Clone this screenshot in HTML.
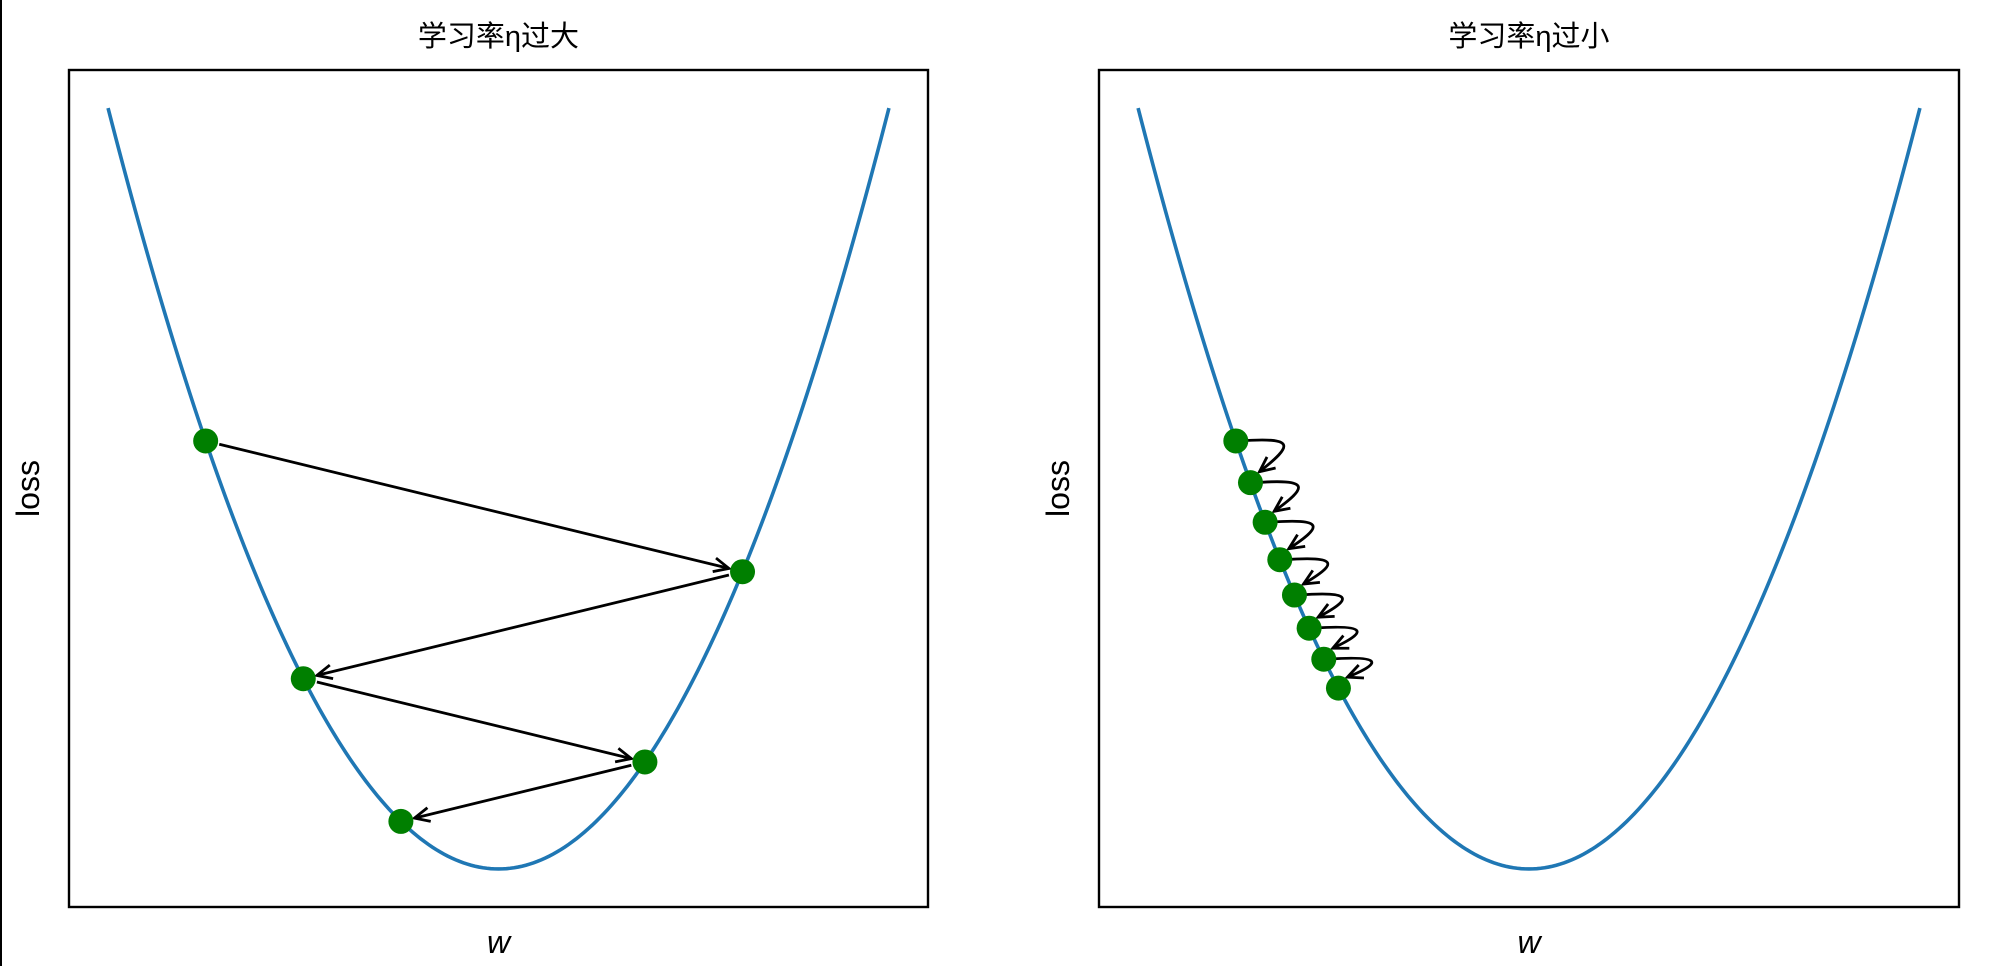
<!DOCTYPE html>
<html><head><meta charset="utf-8">
<style>
html,body{margin:0;padding:0;background:#fff;}
svg{display:block;}
text{font-family:"Liberation Sans","Noto Sans CJK SC",sans-serif;fill:#000;}
</style></head>
<body>
<svg id="fig" width="2000" height="966" viewBox="0 0 2000 966" xmlns="http://www.w3.org/2000/svg">
<rect x="0" y="0" width="2000" height="966" fill="#fff"/>
<line x1="1" y1="0" x2="1" y2="966" stroke="#000" stroke-width="2"/>
</svg>
<script>
// data
const curveRange = [-2, 2];
const largeSteps = [-1.5, 1.25, -1.0, 0.75, -0.5];
const smallSteps = [-1.5, -1.425, -1.35, -1.275, -1.2, -1.125, -1.05, -0.975];
const titles = ["学习率η过大", "学习率η过小"];
const xLabel = "w";
const yLabel = "loss";

const NS = "http://www.w3.org/2000/svg";
const svg = document.getElementById('fig');
function mk(tag, attrs, parent){
  const e = document.createElementNS(NS, tag);
  for (const k in attrs) e.setAttribute(k, attrs[k]);
  (parent||svg).appendChild(e);
  return e;
}
function loss(w){ return w*w; }

const panels = [
  {x0:69, x1:928, steps:largeSteps, curved:false, key:'left'},
  {x0:1099, x1:1959, steps:smallSteps, curved:true, key:'right'}
];
const y0 = 70, y1 = 907;
const xmin = -2.2, xmax = 2.2, ymin = -0.2, ymax = 4.2;

function arrowHead(g, ex, ey, dx, dy){
  const L = Math.hypot(dx,dy); const ux=dx/L, uy=dy/L;
  const hl = 15, hw = 7;
  const p1 = [ex - ux*hl - uy*hw, ey - uy*hl + ux*hw];
  const p2 = [ex - ux*hl + uy*hw, ey - uy*hl - ux*hw];
  const h = mk('path', {d:`M${p1[0]},${p1[1]} L${ex},${ey} L${p2[0]},${p2[1]}`, fill:'none', stroke:'#000', 'stroke-width':2.8, 'stroke-linejoin':'miter'}, g);
  
  
}

panels.forEach((p, pi) => {
  const sx = w => p.x0 + (w - xmin) / (xmax - xmin) * (p.x1 - p.x0);
  const sy = v => y1 - (v - ymin) / (ymax - ymin) * (y1 - y0);
  const cx = (p.x0 + p.x1) / 2;
  const g = mk('g', {});
  
  

  let d = '';
  const N = 200;
  for (let i = 0; i <= N; i++) {
    const w = curveRange[0] + (curveRange[1] - curveRange[0]) * i / N;
    d += (i ? 'L' : 'M') + sx(w).toFixed(2) + ',' + sy(loss(w)).toFixed(2);
  }
  const c = mk('path', {d:d, fill:'none', stroke:'#1f77b4', 'stroke-width':3.6}, g);
  
  

  for (let i = 0; i < p.steps.length - 1; i++) {
    const ax = sx(p.steps[i]), ay = sy(loss(p.steps[i]));
    const bx = sx(p.steps[i+1]), by = sy(loss(p.steps[i+1]));
    const ag = mk('g', {}, g);
    
    
    if (!p.curved) {
      const L = Math.hypot(bx-ax, by-ay), ux=(bx-ax)/L, uy=(by-ay)/L;
      const s = 14;
      const sx1 = ax+ux*s, sy1 = ay+uy*s, ex = bx-ux*s, ey = by-uy*s;
      mk('line', {x1:sx1, y1:sy1, x2:ex, y2:ey, stroke:'#000', 'stroke-width':2.8}, ag);
      arrowHead(ag, ex, ey, ux, uy);
    } else {
      const ex = bx + 9, ey = by - 11;
      const c1x = ax + 60, c1y = ay - 4;
      const c2x = ax + 58, c2y = ay + 4;
      mk('path', {d:`M${ax+4},${ay} C${c1x},${c1y} ${c2x},${c2y} ${ex},${ey}`, fill:'none', stroke:'#000', 'stroke-width':2.8}, ag);
      arrowHead(ag, ex, ey, ex-c2x, ey-c2y);
    }
  }

  p.steps.forEach(w => {
    const m = mk('circle', {cx:sx(w), cy:sy(loss(w)), r:12.5, fill:'#007f00'}, g);
    
    
  });

  const f = mk('rect', {x:p.x0, y:y0, width:p.x1-p.x0, height:y1-y0, fill:'none', stroke:'#000', 'stroke-width':2.4}, g);
  
  

  const t = mk('text', {x:cx, y:46, 'text-anchor':'middle', 'font-size':29}, g);
  t.textContent = titles[pi];
  
  

  const xl = mk('text', {x:cx, y:953, 'text-anchor':'middle', 'font-size':32, 'font-style':'italic'}, g);
  xl.textContent = xLabel;
  
  

  const lx = p.x0 - 30, ly = (y0 + y1) / 2;
  const yl = mk('text', {x:lx, y:ly, 'text-anchor':'middle', 'font-size':32, transform:`rotate(-90 ${lx} ${ly})`}, g);
  yl.textContent = yLabel;
  
  
});
</script>
</body></html>
